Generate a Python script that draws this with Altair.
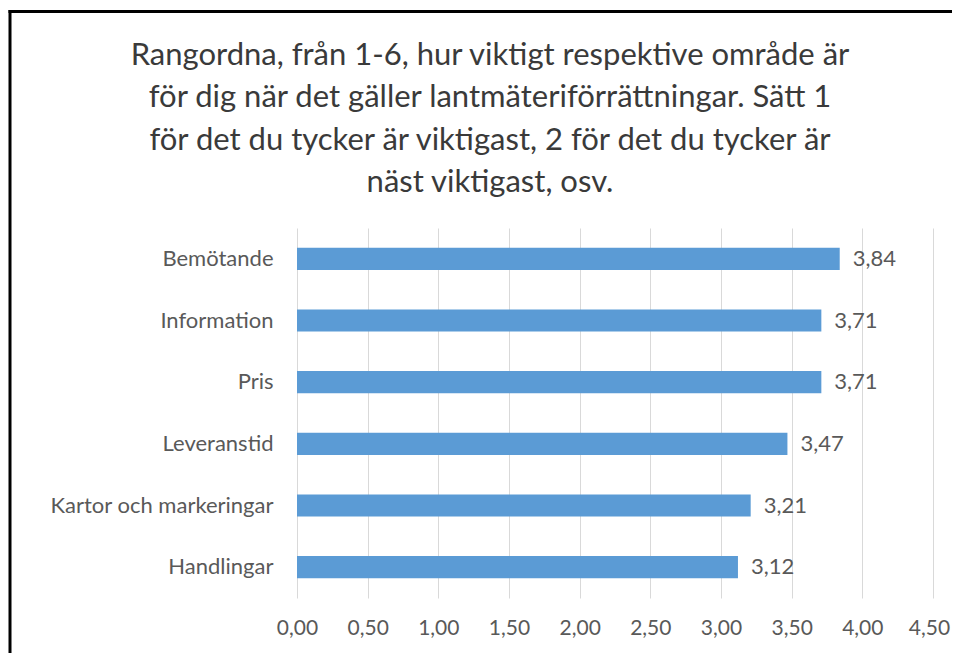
import altair as alt
import pandas as pd

categories = ["Bemötande", "Information", "Pris", "Leveranstid", "Kartor och markeringar", "Handlingar"]
values = [3.84, 3.71, 3.71, 3.47, 3.21, 3.12]
x_ticks = [0, 0.5, 1, 1.5, 2, 2.5, 3, 3.5, 4, 4.5]
title_lines = [
    "Rangordna, från 1-6, hur viktigt respektive område är",
    "för dig när det gäller lantmäteriförrättningar. Sätt 1",
    "för det du tycker är viktigast, 2 för det du tycker är",
    "näst viktigast, osv.",
]

df = pd.DataFrame({"cat": categories, "val": values})

FONT = "Lato"
GREY = "#595959"
FS = 22
W, H = 636, 370
PL, PT, PR, PB = 289, 220, 19, 55

base = alt.Chart(df).encode(
    y=alt.Y("cat:N", sort=categories, title=None,
            scale=alt.Scale(paddingInner=0.64, paddingOuter=0.32),
            axis=alt.Axis(domain=False, ticks=False, labelPadding=24, labelFontSize=FS,
                          labelColor=GREY, labelFont=FONT, grid=False, labelLimit=400)),
)

bars = base.mark_bar(color="#5B9BD5").encode(
    x=alt.X("val:Q", title=None,
            scale=alt.Scale(domain=[0, 4.5], nice=False),
            axis=alt.Axis(values=x_ticks, domain=False, ticks=False, labelPadding=19,
                          labelFontSize=21, labelColor=GREY, labelFont=FONT, labelFlush=False,
                          labelOffset={"condition": {"test": "datum.value == 4.5", "value": -4}, "value": 0},
                          gridColor="#d9d9d9", gridWidth=1,
                          labelExpr="replace(format(datum.value, '.2f'), '.', ',')")),
)

labels = base.mark_text(align="left", baseline="middle", dx=13, fontSize=FS,
                        color=GREY, font=FONT).transform_calculate(
    lab="replace(format(datum.val, '.2f'), '.', ',')"
).encode(x="val:Q", text="lab:N")

one = pd.DataFrame({"a": [0]})

title = alt.Chart(one).mark_text(align="center", baseline="alphabetic", fontSize=31,
                                 font=FONT, color="#3a3a3a", lineHeight=42.3).encode(
    x=alt.value(482 - PL), y=alt.value(57 - PT), text=alt.value(title_lines))

border_left = alt.Chart(one).mark_rule(color="black", strokeWidth=3).encode(
    x=alt.value(-PL + 2), y=alt.value(-PT + 2), y2=alt.value(H + 200))
border_top = alt.Chart(one).mark_rule(color="black", strokeWidth=3).encode(
    x=alt.value(-PL + 0.5), x2=alt.value(W + 200), y=alt.value(-PT + 3.5))

chart = alt.layer(bars, labels, title, border_left, border_top).properties(
    width=W, height=H,
    autosize=alt.AutoSizeParams(type="none"),
    padding={"left": PL, "top": PT, "right": PR, "bottom": PB},
).configure_view(stroke=None)

chart.save("out.html", embed_options={"renderer": "svg", "actions": False})
